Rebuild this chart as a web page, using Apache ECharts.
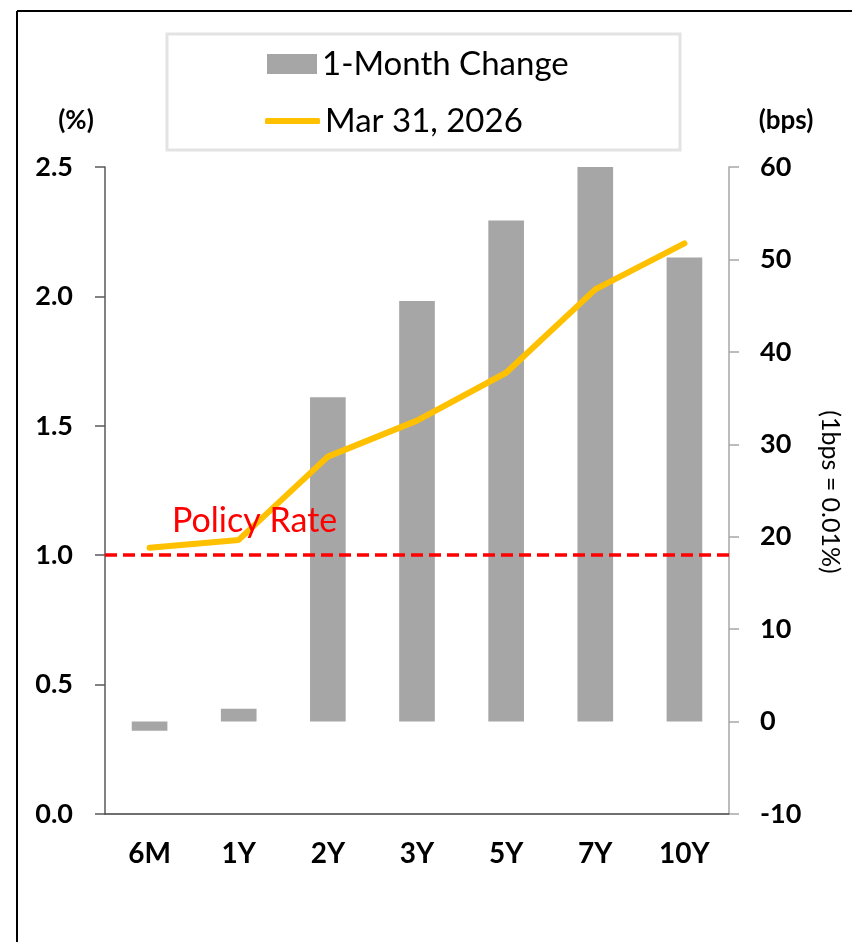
<!DOCTYPE html>
<html>
<head>
    <meta charset="utf-8">
    <script src="https://cdn.jsdelivr.net/npm/echarts@6/dist/echarts.min.js"></script>
    <style>
        html, body { margin: 0; padding: 0; background: #fff; }
    </style>
</head>
<body>
<div id="main" style="width: 852px;height:942px;"></div>
<script>
    // data
    var tenors = ['6M', '1Y', '2Y', '3Y', '5Y', '7Y', '10Y'];
    var monthChange = [-1.0, 1.4, 35.1, 45.5, 54.2, 60.0, 50.2];   // bps, right axis
    var yields = [1.029, 1.059, 1.381, 1.520, 1.705, 2.027, 2.205]; // %, left axis
    var policyRate = 1.0;

    var FONT = 'Lato';
    var myChart = echarts.init(document.getElementById('main'));

    var legendText = { fontFamily: FONT, fontSize: 33, lineHeight: 36, color: '#000' };

    var option = {
        animation: false,
        backgroundColor: '#fff',
        textStyle: { fontFamily: FONT },
        grid: { left: 105, right: 123, top: 167, bottom: 128 },
        legend: [
            {
                left: 267, top: 46, padding: 0,
                itemWidth: 50, itemHeight: 20,
                textStyle: legendText,
                data: [{ name: '1-Month Change', icon: 'rect' }]
            },
            {
                left: 265, top: 103, padding: 0,
                itemWidth: 55, itemHeight: 6,
                textStyle: legendText,
                data: [{ name: 'Mar 31, 2026', icon: 'roundRect' }]
            }
        ],
        xAxis: {
            type: 'category',
            data: tenors,
            axisLine: { lineStyle: { color: '#404040', width: 1.5 } },
            axisTick: { length: 10, lineStyle: { color: '#404040', width: 1.5 } },
            axisLabel: { fontFamily: FONT, fontSize: 28, fontWeight: 'bold', color: '#000', margin: 26 }
        },
        yAxis: [
            {
                type: 'value',
                min: 0, max: 2.5, interval: 0.5,
                splitLine: { show: false },
                axisLine: { show: true, lineStyle: { color: '#595959', width: 1.5 } },
                axisTick: { show: true, length: 10, lineStyle: { color: '#595959', width: 1.5 } },
                axisLabel: {
                    fontFamily: FONT, fontSize: 27, fontWeight: 'bold', color: '#000', margin: 32,
                    formatter: function (v) { return v.toFixed(1); }
                }
            },
            {
                type: 'value',
                min: -10, max: 60, interval: 10,
                splitLine: { show: false },
                axisLine: { show: true, lineStyle: { color: '#a6a6a6', width: 1.5 } },
                axisTick: { show: true, length: 10, lineStyle: { color: '#a6a6a6', width: 1.5 } },
                axisLabel: { fontFamily: FONT, fontSize: 27, fontWeight: 'bold', color: '#000', margin: 31 }
            }
        ],
        series: [
            {
                name: '1-Month Change',
                type: 'bar',
                yAxisIndex: 1,
                data: monthChange,
                barWidth: '40%',
                itemStyle: { color: '#a6a6a6' }
            },
            {
                name: 'Mar 31, 2026',
                type: 'line',
                yAxisIndex: 0,
                data: yields,
                symbol: 'none',
                z: 5,
                lineStyle: { color: '#ffc000', width: 6, cap: 'round' },
                itemStyle: { color: '#ffc000' },
                markLine: {
                    silent: true,
                    symbol: 'none',
                    label: { show: false },
                    lineStyle: { color: '#ff0000', width: 3.5, type: [12, 6] },
                    data: [{ yAxis: policyRate }]
                }
            }
        ],
        graphic: [
            // outer frame (left and top edges only)
            { type: 'line', shape: { x1: 17, y1: 11, x2: 17, y2: 942 }, style: { stroke: '#000', lineWidth: 2 } },
            { type: 'line', shape: { x1: 17, y1: 11, x2: 852, y2: 11 }, style: { stroke: '#000', lineWidth: 2 } },
            // legend box
            { type: 'rect', shape: { x: 167, y: 34, width: 513, height: 116 }, style: { fill: 'none', stroke: '#e3e3e3', lineWidth: 3 }, z: -1 },
            { type: 'text', x: 76, y: 121, z: 100, style: { text: '(%)', font: 'bold 26px ' + FONT, fill: '#000', align: 'center', verticalAlign: 'middle' } },
            { type: 'text', x: 786, y: 121, z: 100, style: { text: '(bps)', font: 'bold 26px ' + FONT, fill: '#000', align: 'center', verticalAlign: 'middle' } },
            { type: 'text', x: 172, y: 521, z: 100, style: { text: 'Policy Rate', font: '34px ' + FONT, fill: '#ff0000', verticalAlign: 'middle' } },
            {
                type: 'text', x: 830, y: 492, z: 100, rotation: -Math.PI / 2,
                style: { text: '(1bps = 0.01%)', font: '25px ' + FONT, fill: '#000', align: 'center', verticalAlign: 'middle' }
            }
        ]
    };
    myChart.setOption(option);
</script>
</body>
</html>
